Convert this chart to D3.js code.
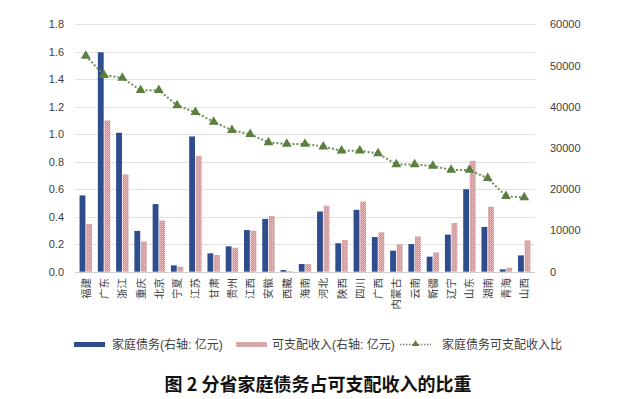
<!DOCTYPE html>
<html>
<head>
<meta charset="utf-8">
<script src="https://cdn.jsdelivr.net/npm/d3@7"></script>
<style>
  body { margin: 0; background: #fff; }
  text { font-family: Arial, "Liberation Sans", "Noto Sans CJK SC", sans-serif; }
</style>
</head>
<body>
<div id="chart"></div>
<script>
// Data
var provinces = ['福建', '广东', '浙江', '重庆', '北京', '宁夏', '江苏', '甘肃', '贵州', '江西', '安徽', '西藏', '海南',
  '河北', '陕西', '四川', '广西', '内蒙古', '云南', '新疆', '辽宁', '山东', '湖南', '青海', '山西']
var debt = [18500, 53200, 33700, 9900, 16400, 1540, 32800, 4450, 6150, 10100, 12800, 400, 1860,
  14600, 6900, 15000, 8400, 5100, 6700, 3650, 9000, 20000, 10850, 570, 3950]
var income = [11600, 36700, 23600, 7300, 12400, 1200, 28100, 4050, 5800, 9950, 13500, 150, 1860,
  16000, 7700, 17000, 9550, 6650, 8550, 4700, 11800, 26900, 15750, 970, 7600]
var ratio = [1.57, 1.43, 1.41, 1.32, 1.32, 1.21, 1.16, 1.09, 1.03, 1.00, 0.94, 0.93, 0.93,
  0.91, 0.88, 0.88, 0.86, 0.78, 0.78, 0.77, 0.74, 0.74, 0.68, 0.55, 0.54]
var leftTicks = [0, 0.2, 0.4, 0.6, 0.8, 1.0, 1.2, 1.4, 1.6, 1.8]
var rightTicks = [0, 10000, 20000, 30000, 40000, 50000, 60000]
var legendLabels = ['家庭债务(右轴: 亿元)', '可支配收入(右轴: 亿元)', '家庭债务可支配收入比']
var title = '图 2  分省家庭债务占可支配收入的比重'

var width = 636
var height = 399
var plot = { left: 75, right: 535, top: 24.3, bottom: 271.7 }

var blue = '#2f4d8c'
var pink = '#e28890'
var green = '#5b7f3f'

var svg = d3.select('#chart')
  .append('svg')
  .attr('width', width)
  .attr('height', height)

// pink checkered fill
var defs = svg.append('defs')
var pat = defs.append('pattern')
  .attr('id', 'hatch')
  .attr('patternUnits', 'userSpaceOnUse')
  .attr('width', 2)
  .attr('height', 2)
pat.append('rect').attr('width', 2).attr('height', 2).attr('fill', pink)
pat.append('rect').attr('width', 1).attr('height', 1).attr('fill', '#f2c2c5')
pat.append('rect').attr('x', 1).attr('y', 1).attr('width', 1).attr('height', 1).attr('fill', '#eaa8ad')

// Scales
var xScale = d3.scaleBand()
  .domain(provinces)
  .range([plot.left, plot.right])
  .paddingInner(0.32)
  .paddingOuter(0.25)

var yLeft = d3.scaleLinear().domain([0, 1.8]).range([plot.bottom, plot.top])
var yRight = d3.scaleLinear().domain([0, 60000]).range([plot.bottom, plot.top])

// Gridlines
svg.append('g')
  .selectAll('line')
  .data(leftTicks)
  .enter()
  .append('line')
  .attr('x1', plot.left)
  .attr('x2', plot.right)
  .attr('y1', d => Math.round(yLeft(d)) + 0.5)
  .attr('y2', d => Math.round(yLeft(d)) + 0.5)
  .attr('stroke', d => d === 0 ? '#d0d0d0' : '#e2e2e2')
  .attr('stroke-width', 1)

// Left axis
var leftAxis = svg.append('g')
  .attr('transform', `translate(${plot.left - 11}, 0)`)
  .call(d3.axisLeft(yLeft).tickValues(leftTicks).tickFormat(d3.format('.1f')).tickSize(0).tickPadding(0))
leftAxis.select('.domain').remove()
leftAxis.selectAll('text')
  .attr('fill', '#404040')
  .style('font-size', '11px')

// Right axis
var rightAxis = svg.append('g')
  .attr('transform', `translate(${plot.right + 15}, 0)`)
  .call(d3.axisRight(yRight).tickValues(rightTicks).tickFormat(d3.format('d')).tickSize(0).tickPadding(0))
rightAxis.select('.domain').remove()
rightAxis.selectAll('text')
  .attr('fill', '#404040')
  .style('font-size', '11px')

// Bars
var bw = xScale.bandwidth()
svg.append('g')
  .selectAll('rect')
  .data(provinces)
  .enter()
  .append('rect')
  .attr('x', d => xScale(d))
  .attr('y', (d, i) => yRight(debt[i]))
  .attr('width', bw * 0.47)
  .attr('height', (d, i) => plot.bottom - yRight(debt[i]))
  .attr('fill', blue)

svg.append('g')
  .selectAll('rect')
  .data(provinces)
  .enter()
  .append('rect')
  .attr('x', d => xScale(d) + bw * 0.53)
  .attr('y', (d, i) => yRight(income[i]))
  .attr('width', bw * 0.47)
  .attr('height', (d, i) => plot.bottom - yRight(income[i]))
  .attr('fill', 'url(#hatch)')

// Ratio line
var cx = d => xScale(d) + bw / 2
var line = d3.line()
  .x(d => cx(d))
  .y((d, i) => yLeft(ratio[i]))

svg.append('path')
  .datum(provinces)
  .attr('d', line)
  .attr('fill', 'none')
  .attr('stroke', '#6e8f58')
  .attr('stroke-width', 2)
  .attr('stroke-dasharray', '2,2')

var tri = d3.symbol().type(d3.symbolTriangle).size(42)
svg.append('g')
  .selectAll('path')
  .data(provinces)
  .enter()
  .append('path')
  .attr('d', tri)
  .attr('transform', (d, i) => `translate(${cx(d)}, ${yLeft(ratio[i])})`)
  .attr('fill', green)

// Category labels, rotated
svg.append('g')
  .selectAll('text')
  .data(provinces)
  .enter()
  .append('text')
  .attr('transform', d => `translate(${cx(d) + 4}, 278) rotate(-90)`)
  .attr('text-anchor', 'end')
  .attr('fill', '#404040')
  .style('font-size', '10.5px')
  .style('font-family', '"Noto Sans CJK SC", sans-serif')
  .text(d => d)

// Legend
var legend = svg.append('g')
  .style('font-family', '"Noto Sans CJK SC", sans-serif')
  .style('font-size', '12px')

legend.append('rect')
  .attr('x', 74).attr('y', 342).attr('width', 31).attr('height', 5)
  .attr('fill', blue)
legend.append('text')
  .attr('x', 112).attr('y', 349)
  .attr('fill', '#404040')
  .text(legendLabels[0])

legend.append('rect')
  .attr('x', 236).attr('y', 342).attr('width', 31).attr('height', 5)
  .attr('fill', 'url(#hatch)')
legend.append('text')
  .attr('x', 272).attr('y', 349)
  .attr('fill', '#404040')
  .text(legendLabels[1])

legend.append('line')
  .attr('x1', 400).attr('x2', 431).attr('y1', 344.5).attr('y2', 344.5)
  .attr('stroke', '#6e8f58')
  .attr('stroke-width', 1.5)
  .attr('stroke-dasharray', '1.5,1.5')
legend.append('path')
  .attr('d', d3.symbol().type(d3.symbolTriangle).size(22))
  .attr('transform', 'translate(415.5, 344)')
  .attr('fill', green)
legend.append('text')
  .attr('x', 442).attr('y', 349)
  .attr('fill', '#404040')
  .text(legendLabels[2])

// Title
svg.append('text')
  .attr('x', 318)
  .attr('y', 391)
  .attr('text-anchor', 'middle')
  .style('font-family', '"Noto Sans CJK SC", sans-serif')
  .style('font-weight', 'bold')
  .style('font-size', '18px')
  .attr('fill', '#111')
  .text(title)
</script>
</body>
</html>
